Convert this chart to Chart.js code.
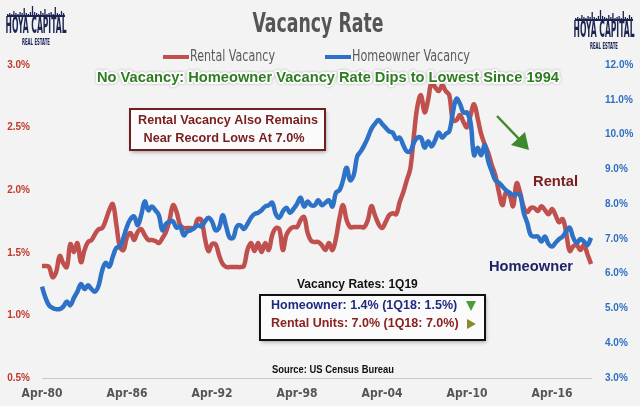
<!DOCTYPE html>
<html lang="en">
<head>
<meta charset="UTF-8">
<title>Vacancy Rate</title>
<script src="https://cdn.jsdelivr.net/npm/chart.js"></script>
<style>
    html, body { margin: 0; padding: 0; background: #f3f3f3; }
    #wrap { width: 640px; height: 406px; }
</style>
</head>
<body>
<div id="wrap"><canvas id="vacancyChart" width="640" height="406"></canvas></div>
<script>
// quarterly series, first point = Apr-80 (Q2 1980)
const homeownerVacancy = [
    1.23, 1.14, 1.08, 1.06, 1.05, 1.05, 1.07, 1.11, 1.08, 1.14, 1.19, 1.25, 1.21, 1.24, 1.21, 1.19,
    1.24, 1.36, 1.42, 1.39, 1.47, 1.54, 1.55, 1.62, 1.71, 1.77, 1.79, 1.72, 1.80, 1.91, 1.84, 1.87,
    1.84, 1.80, 1.68, 1.73, 1.75, 1.75, 1.70, 1.71, 1.64, 1.67, 1.68, 1.70, 1.72, 1.71, 1.75, 1.78,
    1.75, 1.68, 1.70, 1.80, 1.71, 1.62, 1.62, 1.71, 1.72, 1.69, 1.73, 1.78, 1.81, 1.82, 1.84, 1.87,
    1.88, 1.90, 1.81, 1.78, 1.83, 1.86, 1.82, 1.85, 1.89, 1.94, 1.87, 1.91, 1.88, 1.88, 1.92, 1.88,
    1.90, 1.92, 1.87, 1.98, 2.00, 2.08, 2.18, 2.08, 2.12, 2.27, 2.31, 2.36, 2.42, 2.49, 2.53, 2.56,
    2.53, 2.50, 2.47, 2.46, 2.41, 2.42, 2.36, 2.31, 2.31, 2.38, 2.42, 2.42, 2.34, 2.39, 2.35, 2.40,
    2.46, 2.42, 2.45, 2.47, 2.62, 2.73, 2.69, 2.62, 2.62, 2.54, 2.28, 2.34, 2.28, 2.36, 2.23, 2.15,
    2.08, 2.06, 2.03, 2.00, 1.98, 1.96, 1.97, 1.96, 1.82, 1.74, 1.64, 1.63, 1.63, 1.59, 1.63, 1.57,
    1.55, 1.58, 1.61, 1.63, 1.67, 1.70, 1.62, 1.58, 1.61, 1.59, 1.56, 1.62
];
const rentalVacancy = [
    6.22, 6.22, 6.19, 5.90, 6.05, 6.51, 6.30, 6.19, 6.85, 6.62, 6.88, 6.33, 6.68, 6.91, 6.97, 7.14,
    7.28, 7.31, 7.54, 7.83, 8.00, 7.40, 6.76, 6.68, 7.05, 7.17, 6.97, 7.20, 7.28, 7.11, 6.97, 6.97,
    6.94, 6.88, 7.02, 7.20, 7.54, 7.97, 7.77, 7.40, 7.31, 7.31, 7.31, 7.31, 7.57, 7.54, 7.02, 6.65,
    6.85, 6.85, 6.53, 6.28, 6.19, 6.19, 6.19, 6.19, 6.19, 6.22, 6.68, 6.88, 6.65, 6.88, 6.62, 6.88,
    6.68, 7.11, 7.31, 7.28, 6.68, 7.11, 7.28, 7.34, 7.34, 7.54, 7.63, 7.17, 6.94, 6.91, 6.91, 6.82,
    6.68, 6.88, 6.68, 7.02, 7.60, 7.97, 7.54, 7.34, 7.34, 7.34, 7.34, 7.34, 7.54, 7.94, 7.68, 7.43,
    7.31, 7.48, 7.68, 7.74, 7.71, 8.06, 8.34, 8.69, 9.03, 9.98, 10.82, 11.13, 10.64, 10.99, 11.51, 11.36,
    11.25, 11.42, 11.25, 11.13, 10.41, 10.41, 10.56, 10.36, 10.21, 10.56, 10.87, 10.47, 10.01, 9.72, 9.47, 9.12,
    8.83, 8.34, 7.97, 8.34, 8.26, 7.94, 8.60, 8.32, 7.91, 7.77, 7.89, 7.89, 7.80, 7.94, 7.83, 7.71,
    7.86, 7.68, 7.48, 7.57, 7.17, 6.65, 6.79, 6.82, 6.68, 6.82, 6.56, 6.28
];
const quarterMonths = ['Jan', 'Apr', 'Jul', 'Oct'];
const firstYear = 1980, firstQuarter = 1;   // 0 = Jan, 1 = Apr
const labelEvery = 24;                      // one x label every 6 years
const leftAxis = { min: 0.5, max: 3.0, step: 0.5 };
const rightAxis = { min: 3.0, max: 12.0, step: 1.0 };

const quarterLabels = [];
for (let i = 0; i < rentalVacancy.length; i++) {
    const q = firstQuarter + i;
    const yr = firstYear + Math.floor(q / 4);
    quarterLabels.push(quarterMonths[q % 4] + '-' + String(yr).slice(2));
}

const RED = '#c0504d';
const BLUE = '#2d72c6';
const NARROW = "'Liberation Sans Narrow', 'DejaVu Sans Condensed', 'Roboto', sans-serif";
const SANS = "'Liberation Sans', Arial, sans-serif";

function drawLogo(ctx, cx, top) {
    ctx.save();
    ctx.fillStyle = '#1c2452';
    // little skyline above the name
    const bars = [3, 4, 3, 6, 4, 3, 5, 4, 9, 4, 3, 5, 11, 5, 4, 3, 6, 4, 8, 3, 4, 5, 3, 10, 4, 3, 6, 4];
    const w = 58, base = top + 12;
    ctx.fillRect(cx - w / 2, base - 2, w, 2);
    bars.forEach((h, i) => {
        ctx.fillRect(cx - w / 2 + i * (w / bars.length), base - h, 1.3, h);
    });
    ctx.textAlign = 'center';
    ctx.textBaseline = 'middle';
    ctx.font = 'bold 23px ' + NARROW;
    ctx.fillText('HOYA CAPITAL', cx, top + 22, 61);
    ctx.font = 'bold 8px ' + NARROW;
    ctx.fillText('REAL ESTATE', cx, top + 38, 28);
    ctx.restore();
}

function shadowBox(ctx, x, y, w, h, border) {
    ctx.save();
    ctx.shadowColor = 'rgba(0,0,0,0.35)';
    ctx.shadowBlur = 4;
    ctx.shadowOffsetX = 1;
    ctx.shadowOffsetY = 2;
    ctx.fillStyle = '#fbfbfb';
    ctx.fillRect(x, y, w, h);
    ctx.restore();
    ctx.save();
    ctx.strokeStyle = border;
    ctx.lineWidth = 2;
    ctx.strokeRect(x, y, w, h);
    ctx.restore();
}

function text(ctx, str, x, y, font, color, align, maxW) {
    ctx.save();
    ctx.font = font;
    ctx.fillStyle = color;
    ctx.textAlign = align || 'left';
    ctx.textBaseline = 'middle';
    if (maxW) ctx.fillText(str, x, y, maxW); else ctx.fillText(str, x, y);
    ctx.restore();
}

const overlay = {
    id: 'overlay',
    beforeDraw(chart) {
        const ctx = chart.ctx;
        ctx.save();
        ctx.fillStyle = '#f3f3f3';
        ctx.fillRect(0, 0, chart.width, chart.height);
        ctx.restore();
    },
    afterDraw(chart) {
        const ctx = chart.ctx;

        // title + legend
        text(ctx, 'Vacancy Rate', 318, 25, 'bold 26px ' + NARROW, '#555555', 'center', 131);
        ctx.fillStyle = RED;
        ctx.fillRect(163, 55, 26, 4);
        ctx.fillStyle = BLUE;
        ctx.fillRect(325, 55, 26, 4);
        text(ctx, 'Rental Vacancy', 190, 57, '15px ' + NARROW, '#5a5a5a', 'left', 85);
        text(ctx, 'Homeowner Vacancy', 352, 57, '15px ' + NARROW, '#5a5a5a', 'left', 118);

        drawLogo(ctx, 36, 5);
        drawLogo(ctx, 604, 9);

        // headline with white glow
        ctx.save();
        ctx.font = 'bold 15px ' + SANS;
        ctx.textAlign = 'left';
        ctx.textBaseline = 'middle';
        const head = 'No Vacancy: Homeowner Vacancy Rate Dips to Lowest Since 1994';
        ctx.lineJoin = 'round';
        ctx.strokeStyle = 'rgba(255,255,255,0.95)';
        ctx.lineWidth = 4;
        ctx.shadowColor = 'rgba(0,0,0,0.25)';
        ctx.shadowBlur = 3;
        ctx.strokeText(head, 97, 78, 462);
        ctx.shadowColor = 'transparent';
        ctx.fillStyle = '#2f7d22';
        ctx.fillText(head, 97, 78, 462);
        ctx.restore();

        // rental call-out
        shadowBox(ctx, 130, 109, 195, 41, '#6e2020');
        text(ctx, 'Rental Vacancy Also Remains', 228, 120, 'bold 13px ' + SANS, '#7a1d1d', 'center', 180);
        text(ctx, 'Near Record Lows At 7.0%', 224, 138, 'bold 13px ' + SANS, '#7a1d1d', 'center', 161);

        // green arrow
        ctx.save();
        ctx.strokeStyle = '#3d8a2c';
        ctx.fillStyle = '#3d8a2c';
        ctx.lineWidth = 2.5;
        ctx.beginPath();
        ctx.moveTo(497, 116);
        ctx.lineTo(520, 140);
        ctx.stroke();
        ctx.beginPath();
        ctx.moveTo(529, 150);
        ctx.lineTo(511, 145);
        ctx.lineTo(525, 132);
        ctx.closePath();
        ctx.fill();
        ctx.restore();

        text(ctx, 'Rental', 533, 182, 'bold 15px ' + SANS, '#7a1d1d', 'left', 45);
        text(ctx, 'Homeowner', 489, 267, 'bold 15px ' + SANS, '#1f2466', 'left', 84);

        // 1Q19 summary box
        text(ctx, 'Vacancy Rates: 1Q19', 297, 285, 'bold 12px ' + SANS, '#111111', 'left', 126);
        shadowBox(ctx, 260, 295, 225, 45, '#111111');
        text(ctx, 'Homeowner: 1.4% (1Q18: 1.5%)', 271, 306, 'bold 12.5px ' + SANS, '#1f2a80', 'left', 189);
        text(ctx, 'Rental Units: 7.0% (1Q18: 7.0%)', 271, 324, 'bold 12.5px ' + SANS, '#8a2020', 'left', 188);
        ctx.save();
        ctx.fillStyle = '#4f9a3a';
        ctx.beginPath();
        ctx.moveTo(466, 301); ctx.lineTo(476, 301); ctx.lineTo(471, 311);
        ctx.closePath(); ctx.fill();
        ctx.fillStyle = '#8a8a2a';
        ctx.beginPath();
        ctx.moveTo(467, 319); ctx.lineTo(476, 324); ctx.lineTo(467, 329);
        ctx.closePath(); ctx.fill();
        ctx.restore();

        text(ctx, 'Source: US Census Bureau', 272, 370, 'bold 11px ' + SANS, '#111111', 'left', 122);
    }
};

const ctx = document.getElementById('vacancyChart').getContext('2d');
new Chart(ctx, {
    type: 'line',
    data: {
        labels: quarterLabels,
        datasets: [
            {
                label: 'Homeowner Vacancy',
                data: homeownerVacancy,
                yAxisID: 'yLeft',
                borderColor: BLUE,
                borderWidth: 4.5,
                pointRadius: 0,
                tension: 0.4,
                order: 0
            },
            {
                label: 'Rental Vacancy',
                data: rentalVacancy,
                yAxisID: 'yRight',
                borderColor: RED,
                borderWidth: 4.5,
                pointRadius: 0,
                tension: 0.4,
                order: 1
            }
        ]
    },
    options: {
        responsive: false,
        animation: false,
        layout: { padding: { top: 65, left: 0, right: 0, bottom: 0 } },
        plugins: {
            legend: { display: false },
            title: { display: false },
            tooltip: { enabled: false }
        },
        scales: {
            x: {
                grid: { display: false, drawTicks: false },
                border: { display: true, color: '#c9c9c9', dash: [1, 2], width: 1 },
                afterFit: s => { s.height = 28; },
                ticks: {
                    autoSkip: false,
                    maxRotation: 0,
                    padding: 9,
                    color: '#555555',
                    font: { family: NARROW, size: 12, weight: 'bold' },
                    callback: function (v, i) {
                        return i % labelEvery === 0 ? this.getLabelForValue(v) : null;
                    }
                }
            },
            yLeft: {
                position: 'left',
                min: leftAxis.min,
                max: leftAxis.max,
                grid: { display: false, drawTicks: false },
                border: { display: false },
                afterFit: s => { s.width = 42; },
                ticks: {
                    stepSize: leftAxis.step,
                    padding: 12,
                    color: '#c0392b',
                    font: { family: SANS, size: 10, weight: 'bold' },
                    callback: v => v.toFixed(1) + '%'
                }
            },
            yRight: {
                position: 'right',
                min: rightAxis.min,
                max: rightAxis.max,
                grid: { display: false, drawTicks: false },
                border: { display: false },
                afterFit: s => { s.width = 49; },
                ticks: {
                    stepSize: rightAxis.step,
                    padding: 14,
                    color: '#2f6fc0',
                    font: { family: SANS, size: 10, weight: 'bold' },
                    callback: v => v.toFixed(1) + '%'
                }
            }
        }
    },
    plugins: [overlay]
});
</script>
</body>
</html>
